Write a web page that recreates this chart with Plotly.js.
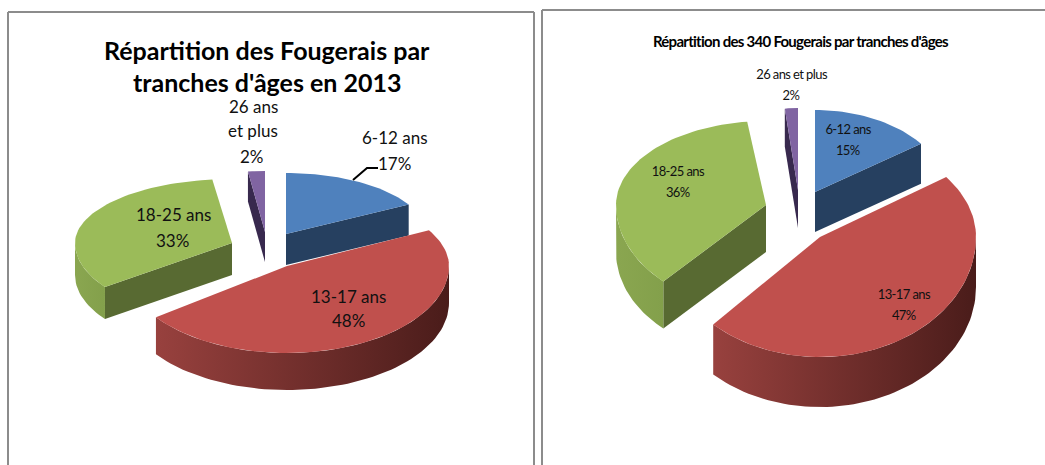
<!DOCTYPE html>
<html><head><meta charset="utf-8">
<script src="https://cdn.plot.ly/plotly-3.0.1.min.js"></script>
<style>html,body{margin:0;padding:0;background:#fff}#c{width:1045px;height:465px}</style>
</head><body><div id="c"></div>
<script>
const categories = ['6-12 ans', '13-17 ans', '18-25 ans', '26 ans et plus'];
const valuesLeft = [17, 48, 33, 2];
const valuesRight = [15, 47, 36, 2];
const titleLeftLines = ["Répartition des Fougerais par", "tranches d'âges en 2013"];
const titleRight = "Répartition des 340 Fougerais par tranches d'âges";

// Style: top surface, cut face, outer wall (left-to-right gradient)
const styles = [
  {top:'#4F81BD', face:'#264060', wall:['#264060','#264060']},
  {top:'#C0504D', face:'#632523', wall:['#98413E','#4A1C1A']},
  {top:'#9BBB59', face:'#586A32', wall:['#8AA650','#83A04B']},
  {top:'#8064A2', face:'#38294E', wall:['#38294E','#38294E']}
];
// Layout of each exploded slice, in page pixels, with a separate back/front half-height for perspective
const geomLeft = [
  {cx:286,cy:234,a:140,bb:61,bf:61,d:31},
  {cx:287,cy:266,a:162,bb:74,bf:87,d:37},
  {cx:232,cy:243,a:157,bb:64,bf:75,d:32},
  {cx:265,cy:232,a:136,bb:61,bf:61,d:30}
];
const geomRight = [
  {cx:815,cy:192,a:131,bb:82,bf:82,d:40},
  {cx:820,cy:237,a:156,bb:102,bf:120,d:50},
  {cx:766,cy:205,a:150,bb:84,bf:105,d:47},
  {cx:798,cy:190,a:105,bb:82,bf:82,d:38}
];
const drawOrder = [3, 0, 2, 1];

function pt(g, deg, dy) {
  const t = deg * Math.PI / 180, c = Math.cos(t);
  return [g.cx + g.a * Math.sin(t), g.cy - (c > 0 ? g.bb : g.bf) * c + (dy || 0)];
}
function arc(g, from, to, dy) {
  const out = [], n = Math.max(2, Math.ceil(Math.abs(to - from) / 2));
  for (let i = 0; i <= n; i++) out.push(pt(g, from + (to - from) * i / n, dy));
  return out;
}
function poly(points, color, gradient) {
  const t = {x: points.map(p => p[0]).concat(points[0][0]), y: points.map(p => p[1]).concat(points[0][1]),
    mode:'lines', line:{width:0, color:color}, fill:'toself', fillcolor:color, hoverinfo:'skip', showlegend:false};
  if (gradient) t.fillgradient = {type:'horizontal', colorscale:[[0, gradient[0]], [1, gradient[1]]]};
  return t;
}
function slices(values, geom) {
  const total = values.reduce((s, v) => s + v, 0), traces = [];
  let acc = 0;
  const spans = values.map(v => { const s = [acc / total * 360, (acc + v) / total * 360]; acc += v; return s; });
  drawOrder.forEach(i => {
    const [s, e] = spans[i], g = geom[i], st = styles[i], apex = [g.cx, g.cy];
    const face = deg => { const p = pt(g, deg), q = pt(g, deg, g.d);
      return poly([apex, p, q, [g.cx, g.cy + g.d]], st.face); };
    if (Math.sin(s * Math.PI / 180) < 0) traces.push(face(s));
    if (Math.sin(e * Math.PI / 180) > 0) traces.push(face(e));
    const ws = Math.max(s, 90), we = Math.min(e, 270);
    if (we > ws) traces.push(poly(arc(g, ws, we).concat(arc(g, we, ws, g.d)), st.wall[0], st.wall));
    traces.push(poly([apex].concat(arc(g, s, e)), st.top));
  });
  return traces;
}

const fontL = 'Lato, "Open Sans", sans-serif';
function note(x, y, text, size, extra) {
  return Object.assign({x:x, y:y, xref:'x', yref:'y', text:text, showarrow:false, xanchor:'center', yanchor:'middle',
    font:{family:fontL, size:size, color:'#111'}}, extra || {});
}
const annotationsLeft = [
  note(267, 50, titleLeftLines[0], 25, {font:{family:fontL, size:25, color:'#000', weight:700}}),
  note(267, 82, titleLeftLines[1], 25, {font:{family:fontL, size:25, color:'#000', weight:700}}),
  note(253, 106, '26 ans', 17),
  note(253, 130, 'et plus', 17),
  note(252, 156, valuesLeft[3] + '%', 17),
  note(395, 137, categories[0], 17),
  note(394, 163, valuesLeft[0] + '%', 17),
  note(173, 214, categories[2], 17),
  note(172, 240, valuesLeft[2] + '%', 17),
  note(348, 296, categories[1], 17),
  note(348, 320, valuesLeft[1] + '%', 17)
];
const annotationsRight = [
  note(800, 41, titleRight, 15, {font:{family:fontL, size:15, color:'#000', weight:700}}),
  note(791, 74, categories[3], 13),
  note(791, 95, valuesRight[3] + '%', 13),
  note(848, 129, categories[0], 13),
  note(848, 150, valuesRight[0] + '%', 13),
  note(678, 171, categories[2], 13),
  note(678, 192, valuesRight[2] + '%', 13),
  note(904, 294, categories[1], 13),
  note(904, 315, valuesRight[1] + '%', 13)
];

const frame = (x0, y0, x1, y1) => ({type:'line', xref:'x', yref:'y', x0, y0, x1, y1, line:{color:'#8C8C8C', width:2}, layer:'below'});
const shapes = [
  frame(8, 12, 534, 12), frame(8, 12, 8, 465), frame(534, 12, 534, 465),
  frame(542, 10, 1045, 10), frame(542, 10, 542, 465)
];
const leader = {x:[353, 367, 378], y:[180, 168, 168], mode:'lines', line:{color:'#000', width:2}, hoverinfo:'skip', showlegend:false};

const axis = {visible:false, fixedrange:true};
Plotly.newPlot('c', slices(valuesLeft, geomLeft).concat(slices(valuesRight, geomRight), [leader]), {
  width:1045, height:465, margin:{l:0, r:0, t:0, b:0}, paper_bgcolor:'#fff', plot_bgcolor:'#fff', showlegend:false,
  xaxis:Object.assign({range:[0, 1045]}, axis), yaxis:Object.assign({range:[465, 0]}, axis),
  shapes, annotations:annotationsLeft.concat(annotationsRight)
}, {displayModeBar:false, staticPlot:true}).then(() => {
  // The right-hand chart uses a condensed look: tighten its letter spacing
  const texts = document.querySelectorAll('#c .annotation text');
  texts.forEach((t, i) => {
    if (i === annotationsLeft.length) t.style.letterSpacing = '-0.72px';
    else if (i > annotationsLeft.length) t.style.letterSpacing = '-0.6px';
  });
});
</script></body></html>
